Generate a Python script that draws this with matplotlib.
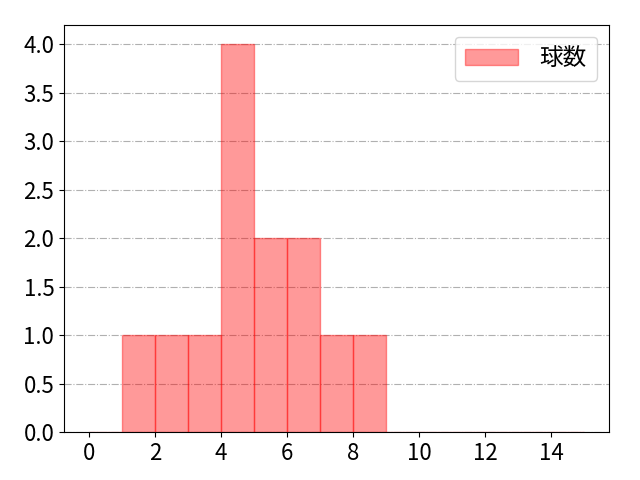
import matplotlib
matplotlib.use("Agg")
import matplotlib.pyplot as plt
import numpy as np

plt.rcParams['font.family'] = ['Noto Sans CJK JP', 'DejaVu Sans']
plt.rcParams['font.size'] = 15

bin_edges = list(range(0, 16))
counts = [0, 1, 1, 1, 4, 2, 2, 1, 1, 0, 0, 0, 0, 0, 0]
label = "球数"

fig, ax = plt.subplots(figsize=(6.4, 4.8), dpi=100)
ax.hist(bin_edges[:-1], bins=bin_edges, weights=counts, color='red', alpha=0.4,
        edgecolor='red', label=label)
ax.set_xticks(range(0, 15, 2))
ax.set_yticks(np.arange(0, 4.01, 0.5))
ax.tick_params(labelsize=16)
ax.grid(axis='y', linestyle='-.', color='#b0b0b0')
ax.set_axisbelow(True)
ax.legend(loc='upper right', fontsize=17, handlelength=2.25, handletextpad=0.9,
          borderpad=0.45)
fig.subplots_adjust(left=0.1, right=0.952, top=0.948, bottom=0.1)
fig.savefig("out.png")
